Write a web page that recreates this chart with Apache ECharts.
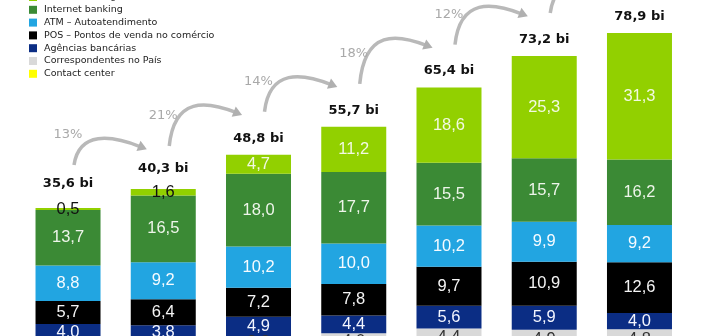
<!DOCTYPE html>
<html>
<head>
<meta charset="utf-8">
<script src="https://cdn.jsdelivr.net/npm/echarts@6/dist/echarts.min.js"></script>
<style>
  html, body { margin: 0; padding: 0; background: #fff; }
  #chart { width: 702px; height: 336px; }
</style>
</head>
<body>
<div id="chart"></div>
<script>
// ---- data ----
const categories = ['2012', '2013', '2014', '2015', '2016', '2017', '2018'];
const mobileBanking = [0.5, 1.6, 4.7, 11.2, 18.6, 25.3, 31.3];
const internetBanking = [13.7, 16.5, 18.0, 17.7, 15.5, 15.7, 16.2];
const atm = [8.8, 9.2, 10.2, 10.0, 10.2, 9.9, 9.2];
const pos = [5.7, 6.4, 7.2, 7.8, 9.7, 10.9, 12.6];
const agencias = [4.0, 3.8, 4.9, 4.4, 5.6, 5.9, 4.0];
const correspondentes = [2.0, 1.9, 2.8, 4.0, 4.4, 4.9, 4.8];
const contactCenter = [0.9, 0.9, 1.0, 0.6, 1.4, 0.6, 0.8];
const totals = [35.6, 40.3, 48.8, 55.7, 65.4, 73.2, 78.9];
const growthLabels = ['13%', '21%', '14%', '18%', '12%', '8%'];

// ---- chart ----
const fmt = v => Number(v).toFixed(1).replace('.', ',');
const valueFont = { fontFamily: 'Liberation Sans', fontSize: 16.5 };

function stackSeries(name, data, color, labelColor, darkSmall) {
  return {
    name: name,
    type: 'bar',
    stack: 'total',
    barWidth: 65,
    barGap: '-100%',
    itemStyle: { color: color },
    label: Object.assign({
      show: true, position: 'inside', color: labelColor,
      formatter: p => fmt(p.value)
    }, valueFont),
    data: data.map(v => (darkSmall && v < 2) ? { value: v, label: { color: '#111' } } : v)
  };
}

const chart = echarts.init(document.getElementById('chart'), null, { renderer: 'canvas' });

const option = {
  animation: false,
  backgroundColor: '#fff',
  legend: {
    orient: 'vertical',
    left: 29,
    top: -8,
    padding: 0,
    itemWidth: 8,
    itemHeight: 8,
    itemGap: 2.8,
    icon: 'rect',
    selectedMode: false,
    data: ['Mobile banking', 'Internet banking', 'ATM – Autoatendimento',
           'POS – Pontos de venda no comércio', 'Agências bancárias',
           'Correspondentes no País', 'Contact center'],
    textStyle: { fontFamily: 'DejaVu Sans', fontSize: 9.5, lineHeight: 10, color: '#222', padding: [0, 0, 0, 2] }
  },
  grid: { left: 20.4, width: 666.7, top: 28.6, height: 323.3, outerBoundsMode: 'none', containLabel: false },
  xAxis: {
    type: 'category', data: categories,
    axisLine: { show: false }, axisTick: { show: false }, axisLabel: { show: false }
  },
  yAxis: {
    type: 'value', min: 0, max: 80,
    axisLine: { show: false }, axisTick: { show: false }, axisLabel: { show: false },
    splitLine: { show: false }
  },
  series: [
    stackSeries('Contact center', contactCenter, '#ffff00', '#333', false),
    stackSeries('Correspondentes no País', correspondentes, '#d9d9d9', '#333', false),
    stackSeries('Agências bancárias', agencias, '#0b2d84', '#f4f6ff', false),
    stackSeries('POS – Pontos de venda no comércio', pos, '#000000', '#f4f4f4', false),
    stackSeries('ATM – Autoatendimento', atm, '#22a5e1', '#f6fbff', false),
    stackSeries('Internet banking', internetBanking, '#3b8a35', '#eef5ea', false),
    stackSeries('Mobile banking', mobileBanking, '#92d000', '#f2f9e2', true),
    {
      name: 'Total',
      type: 'bar',
      barWidth: 65,
      barGap: '-100%',
      silent: true,
      itemStyle: { color: 'rgba(0,0,0,0)' },
      label: {
        show: true, position: 'top', distance: 10,
        fontFamily: 'DejaVu Sans', fontWeight: 'bold', fontSize: 13, color: '#111',
        formatter: p => fmt(p.value) + ' bi'
      },
      data: totals.map((v, i) => i === 0 ? { value: v, label: { distance: 18 } }
                               : i === 1 ? { value: v, label: { distance: 14 } } : v),
      z: 5
    }
  ]
};
chart.setOption(option);

// ---- growth arrows, positioned from the chart's own scales ----
const graphics = [];
for (let i = 0; i < totals.length - 1; i++) {
  const a = chart.convertToPixel({ xAxisIndex: 0, yAxisIndex: 0 }, [i, totals[i]]);
  const b = chart.convertToPixel({ xAxisIndex: 0, yAxisIndex: 0 }, [i + 1, totals[i + 1]]);
  const S = [a[0] + 6, a[1] - 43];
  const E = [b[0] - 22, b[1] - 42];
  const dx = E[0] - S[0];
  const C1 = [S[0] + 5, E[1] - 16];
  const C2 = [S[0] + 0.55 * dx, E[1] - 12];
  let tx = E[0] - C2[0], ty = E[1] - C2[1];
  const len = Math.sqrt(tx * tx + ty * ty); tx /= len; ty /= len;
  const nx = -ty, ny = tx;
  const tip = [E[0] + tx * 6, E[1] + ty * 6];
  const base = [E[0] - tx * 3, E[1] - ty * 3];
  graphics.push({
    type: 'bezierCurve',
    shape: { x1: S[0], y1: S[1], cpx1: C1[0], cpy1: C1[1], cpx2: C2[0], cpy2: C2[1], x2: E[0], y2: E[1] },
    style: { stroke: '#b9b9b9', lineWidth: 3.5, fill: null },
    silent: true, z: 10
  });
  graphics.push({
    type: 'polygon',
    shape: { points: [tip, [base[0] + nx * 5.5, base[1] + ny * 5.5], [base[0] - nx * 5.5, base[1] - ny * 5.5]] },
    style: { fill: '#b0b0b0' },
    silent: true, z: 10
  });
  graphics.push({
    type: 'text',
    x: S[0] - 6, y: S[1] - 30,
    style: {
      text: growthLabels[i], fill: '#a9a9a9', align: 'center', verticalAlign: 'middle',
      font: '13px "DejaVu Sans"'
    },
    silent: true, z: 10
  });
}
chart.setOption({ graphic: graphics });
</script>
</body>
</html>
